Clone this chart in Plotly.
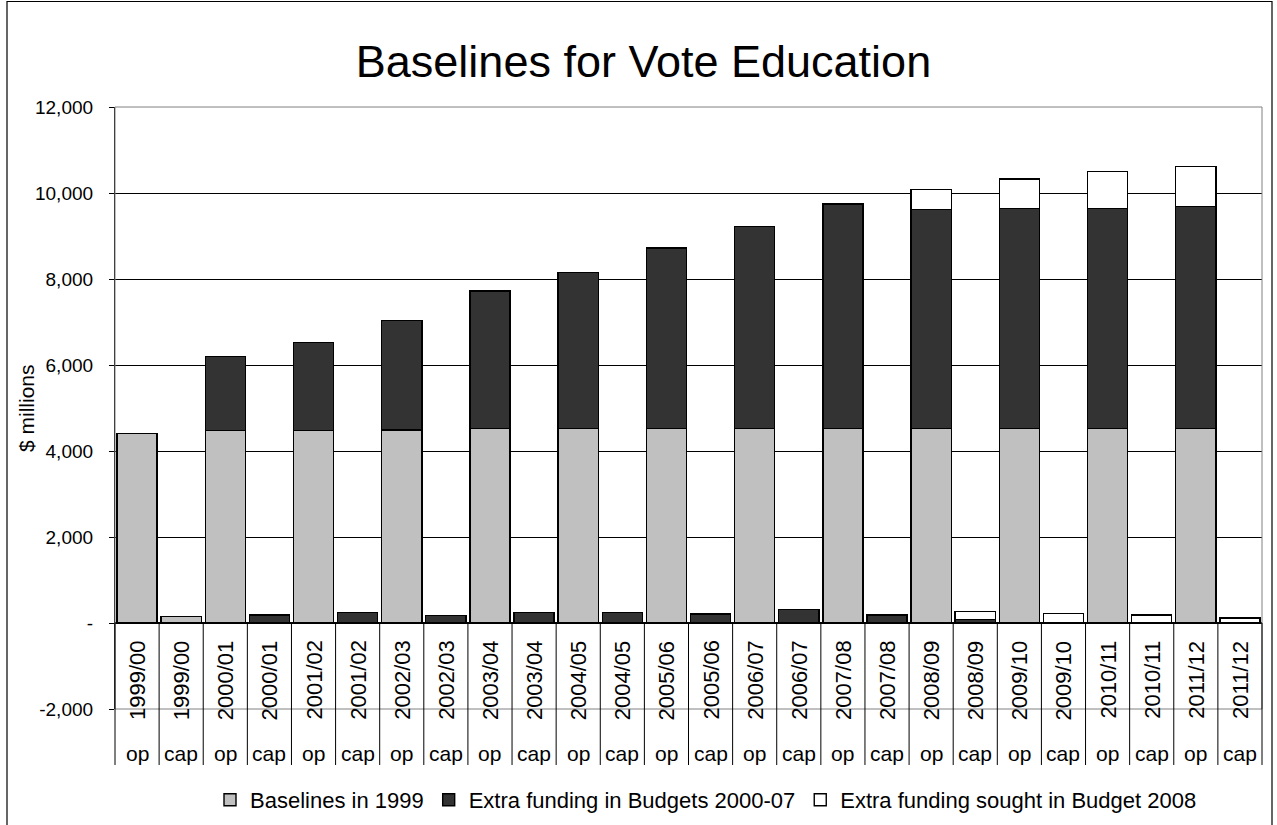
import plotly.graph_objects as go

# ---- data ----
years = ["1999/00", "2000/01", "2001/02", "2002/03", "2003/04", "2004/05", "2005/06",
         "2006/07", "2007/08", "2008/09", "2009/10", "2010/11", "2011/12"]
kinds = ["op", "cap"]

base_op = [4410, 4475, 4475, 4490, 4530, 4530, 4530, 4530, 4530, 4520, 4530, 4530, 4530]
extra_op = [0, 1725, 2045, 2550, 3190, 3620, 4190, 4695, 5215, 5090, 5110, 5110, 5155]
sought_op = [0, 0, 0, 0, 0, 0, 0, 0, 0, 465, 690, 860, 925]

base_cap = [150, 0, 0, 0, 0, 0, 0, 0, 0, 0, 0, 0, 0]
extra_cap = [0, 185, 250, 175, 250, 250, 210, 310, 190, 80, 0, 0, 0]
sought_cap = [0, 0, 0, 0, 0, 0, 0, 0, 0, 188, 228, 190, 120]

y_tickvals = [-2000, 0, 2000, 4000, 6000, 8000, 10000, 12000]
y_ticktext = ["-2,000", "-", "2,000", "4,000", "6,000", "8,000", "10,000", "12,000"]

series_names = ["Baselines in 1999", "Extra funding in Budgets 2000-07",
                "Extra funding sought in Budget 2008"]
series_colors = ["#C0C0C0", "#333333", "#FFFFFF"]


def interleave(op, cap):
    out = []
    for a, b in zip(op, cap):
        out += [a if a else None, b if b else None]
    return out


cat_year = [y for y in years for _ in kinds]
cat_kind = [k for _ in years for k in kinds]
xpos = list(range(len(cat_year)))

series_vals = [interleave(base_op, base_cap),
               interleave(extra_op, extra_cap),
               interleave(sought_op, sought_cap)]

FONT = "Liberation Sans, Arial, sans-serif"

fig = go.Figure()
for name, col, vals in zip(series_names, series_colors, series_vals):
    fig.add_trace(go.Bar(
        x=xpos, y=vals, name=name,
        marker=dict(color=col, line=dict(color="#000000", width=1.4)),
    ))

# plot-area geometry
L, R, T, B = 115, 15, 107, 116
W, H = 1277, 825
ph = H - T - B
pw = W - L - R
ymin, ymax = -2000, 12000


def py(pix):  # pixel (from top) -> paper y
    return (H - B - pix) / ph


def px(pix):  # pixel (from left) -> paper x
    return (pix - L) / pw


zero_paper = (0 - ymin) / (ymax - ymin)

shapes = []
# plot area border (grey)
shapes.append(dict(type="rect", xref="paper", yref="paper", x0=0, x1=1, y0=0, y1=1,
                   line=dict(color="#808080", width=1), fillcolor="rgba(0,0,0,0)"))
# outer chart border
shapes.append(dict(type="rect", xref="paper", yref="paper", x0=px(7), x1=px(1272),
                   y0=py(840), y1=py(1.5), line=dict(color="#000000", width=1.2),
                   fillcolor="rgba(0,0,0,0)"))
# category separators
n = len(xpos)
for b in range(n + 1):
    if b == 0 or b == n:
        shapes.append(dict(type="line", xref="paper", yref="paper",
                           x0=0 if b == 0 else 1, x1=0 if b == 0 else 1,
                           y0=zero_paper, y1=py(765), line=dict(color="#000000", width=1)))
    else:
        shapes.append(dict(type="line", xref="x", yref="paper", x0=b - 0.5, x1=b - 0.5,
                           y0=zero_paper, y1=py(765), line=dict(color="#000000", width=1)))

annotations = []
for i, (yr, kd) in enumerate(zip(cat_year, cat_kind)):
    annotations.append(dict(x=i, y=py(680), xref="x", yref="paper", text=yr, textangle=-90,
                            showarrow=False, font=dict(family=FONT, size=22, color="#000"),
                            xanchor="center", yanchor="middle"))
    annotations.append(dict(x=i, y=py(753), xref="x", yref="paper", text=kd,
                            showarrow=False, font=dict(family=FONT, size=21, color="#000"),
                            xanchor="center", yanchor="middle"))
# y-axis title
annotations.append(dict(x=px(26), y=0.5, xref="paper", yref="paper", text="$ millions",
                        textangle=-90, showarrow=False, xanchor="center", yanchor="middle",
                        font=dict(family=FONT, size=21, color="#000")))

fig.update_layout(
    width=W, height=H,
    margin=dict(l=L, r=R, t=T, b=B, pad=0, autoexpand=False),
    paper_bgcolor="#FFFFFF", plot_bgcolor="#FFFFFF",
    barmode="stack", bargap=0.09,
    font=dict(family=FONT, color="#000000"),
    title=dict(text="Baselines for Vote Education", x=0.5 + 5 / W, xref="container",
               xanchor="center", y=1 - 61 / H, yref="container", yanchor="middle",
               font=dict(family=FONT, size=45, color="#000000")),
    xaxis=dict(range=[-0.5, n - 0.5], showticklabels=False, showgrid=False,
               zeroline=False, showline=False, ticks=""),
    yaxis=dict(range=[ymin, ymax], tickvals=y_tickvals, ticktext=y_ticktext,
               showgrid=True, gridcolor="#000000", gridwidth=1,
               zeroline=True, zerolinecolor="#000000", zerolinewidth=1.5,
               showline=True, linecolor="#000000", linewidth=1.2,
               ticks="outside", ticklen=5, tickcolor="#000000", ticklabelstandoff=12,
               tickfont=dict(family=FONT, size=19, color="#000000")),
    legend=dict(orientation="h", x=0.5 + (706 - W / 2) / W, xref="container", xanchor="center",
                y=1 - 800 / H, yref="container", yanchor="middle",
                traceorder="normal", font=dict(family=FONT, size=22, color="#000000"),
                bgcolor="rgba(0,0,0,0)", itemclick=False),
    shapes=shapes,
    annotations=annotations,
    showlegend=True,
)

fig.write_html("out.html")
